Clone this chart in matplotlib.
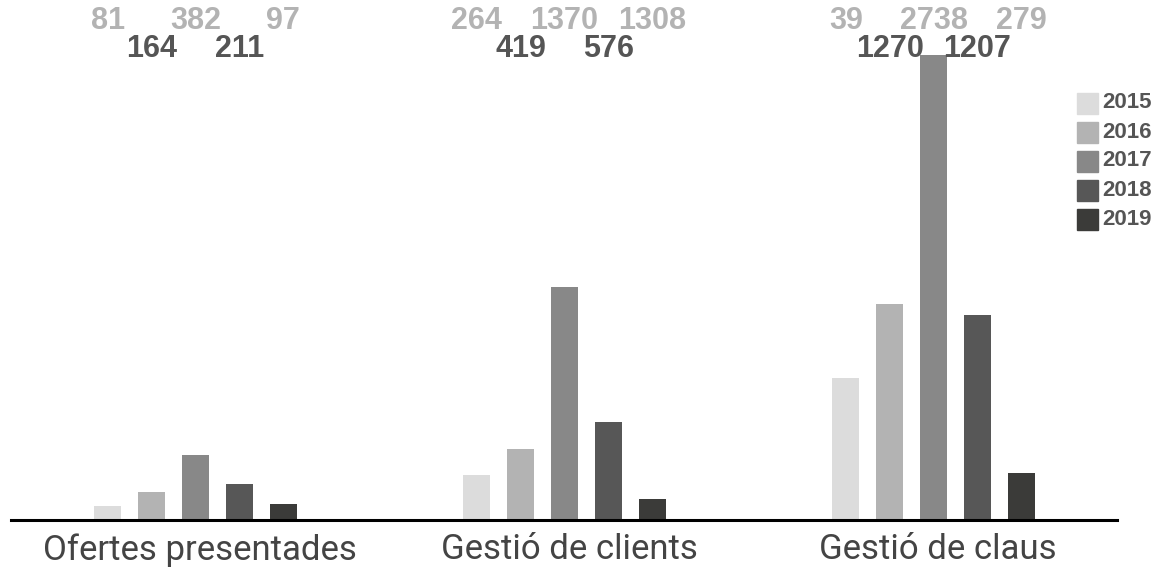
"""Grouped bar chart: yearly counts per activity, 2015-2019."""

import matplotlib

matplotlib.use("Agg")
import matplotlib.pyplot as plt
import numpy as np
from matplotlib.patches import Rectangle

categories = ["Ofertes presentades", "Gestió de clients", "Gestió de claus"]
years = ["2015", "2016", "2017", "2018", "2019"]

# bar heights as drawn
v2015 = [81, 264, 835]
v2016 = [164, 419, 1270]
v2017 = [382, 1370, 2738]
v2018 = [211, 576, 1207]
v2019 = [97, 124, 279]

# numbers printed above each group
labels2015 = ["81", "264", "39"]
labels2016 = ["164", "419", "1270"]
labels2017 = ["382", "1370", "2738"]
labels2018 = ["211", "576", "1207"]
labels2019 = ["97", "1308", "279"]

colors = ["#dcdcdc", "#b3b3b3", "#888888", "#575757", "#3b3b39"]
series = [v2015, v2016, v2017, v2018, v2019]
label_rows = [labels2015, labels2016, labels2017, labels2018, labels2019]

W, H = 1172, 572
fig = plt.figure(figsize=(W / 100, H / 100), dpi=100)
ax = fig.add_axes([11 / W, (H - 520) / H, (1117 - 11) / W, (520 - 40) / H])

x = np.arange(len(categories))
step = 0.119
width = 0.073
for j, (vals, col) in enumerate(zip(series, colors)):
    ax.bar(x + (j - 2) * step, vals, width=width, color=col, zorder=2)

ax.set_xlim(-0.5, 2.497)
ax.set_ylim(0, 2827)
for side in ["top", "right", "left"]:
    ax.spines[side].set_visible(False)
ax.spines["bottom"].set_linewidth(2.2)
ax.spines["bottom"].set_color("#000000")
ax.set_yticks([])
ax.set_xticks([])

# value labels, staggered in two rows at the top
for j, labs in enumerate(label_rows):
    top_row = j % 2 == 0
    for i, lab in enumerate(labs):
        ax.text(
            x[i] + (j - 2) * step,
            1.0 + (19 / 480 if top_row else -9 / 480),
            lab,
            transform=ax.get_xaxis_transform(),
            ha="center",
            va="center",
            fontsize=22,
            fontweight="bold",
            family=["Liberation Sans", "DejaVu Sans"],
            color="#b3b3b3" if top_row else "#555555",
        )

# category names under the axis
for i, cat in enumerate(categories):
    ax.text(
        x[i] + 0.012,
        -0.027,
        cat,
        transform=ax.get_xaxis_transform(),
        ha="center",
        va="top",
        fontsize=25,
        fontweight="normal",
        family=["Roboto", "DejaVu Sans"],
        color="#444444",
    )

# legend drawn by hand in figure pixels
for j, (yr, col) in enumerate(zip(years, colors)):
    yc = 103 + j * 29
    fig.patches.append(
        Rectangle(
            (1077 / W, (H - yc - 10.5) / H), 21 / W, 21 / H,
            transform=fig.transFigure, color=col, figure=fig,
        )
    )
    fig.text(
        1102 / W, (H - yc) / H, yr,
        ha="left", va="center", fontsize=16, fontweight="bold",
        family=["Liberation Sans", "DejaVu Sans"], color="#555555",
    )

fig.savefig("out.png", dpi=100)
